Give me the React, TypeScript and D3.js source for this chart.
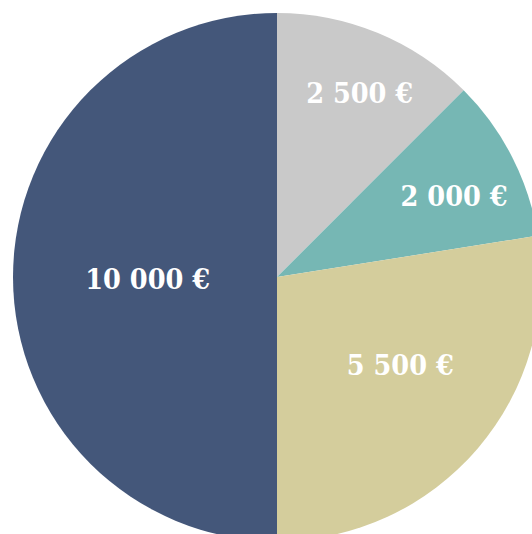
import React from "react";
import * as d3 from "d3";

const categories = ["A", "B", "C", "D"];
const values = [2500, 2000, 5500, 10000];
const labels = ["2 500 €", "2 000 €", "5 500 €", "10 000 €"];
const colors = ["#c9c9c9", "#76b7b4", "#d4cd9c", "#44577a"];
// label anchor: angle (deg, clockwise from top) and radius as fraction of R
const labelAngle = [24, 65, 125, 270];
const labelRadius = [0.77, 0.74, 0.57, 0.49];

export default function App() {
  const W = 532, H = 534;
  const cx = 277, cy = 277, R = 264;
  const pie = d3.pie<number>().sort(null).value((d) => d)(values);
  const arc = d3.arc<d3.PieArcDatum<number>>().innerRadius(0).outerRadius(R);
  return (
    <svg width={W} height={H} style={{ position: "absolute", left: 0, top: 0 }}>
      <g transform={`translate(${cx},${cy})`}>
        {pie.map((p, i) => (
          <path key={categories[i]} d={arc(p) || ""} fill={colors[i]} />
        ))}
        {pie.map((p, i) => {
          const [x, y] = d3.pointRadial((labelAngle[i] * Math.PI) / 180, labelRadius[i] * R);
          return (
            <text
              key={"l" + i}
              x={x}
              y={y}
              dy="0.42em"
              textAnchor="middle"
              fill="#ffffff"
              fontFamily="'DejaVu Serif Condensed', 'DejaVu Serif'"
              fontStretch="condensed"
              fontWeight="bold"
              fontSize={28.5}
            >
              {labels[i]}
            </text>
          );
        })}
      </g>
    </svg>
  );
}
